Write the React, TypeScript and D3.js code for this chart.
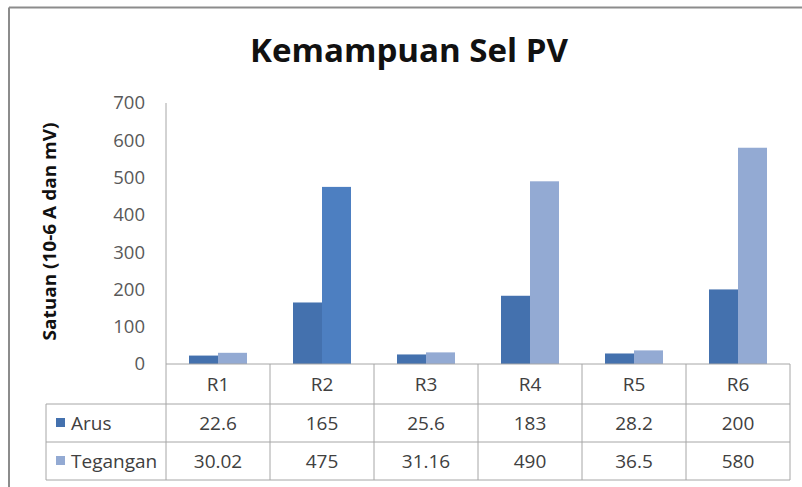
import React from "react";
import * as d3 from "d3";

const categories = ["R1", "R2", "R3", "R4", "R5", "R6"];
const seriesNames = ["Arus", "Tegangan"];
const arus = [22.6, 165, 25.6, 183, 28.2, 200];
const tegangan = [30.02, 475, 31.16, 490, 36.5, 580];
const arusLabels = ["22.6", "165", "25.6", "183", "28.2", "200"];
const teganganLabels = ["30.02", "475", "31.16", "490", "36.5", "580"];
const yTicks = [0, 100, 200, 300, 400, 500, 600, 700];
const title = "Kemampuan Sel PV";
const yLabel = "Satuan (10-6 A dan mV)";

const W = 802;
const H = 487;
const plotL = 166;
const plotR = 790;
const plotT = 103;
const plotB = 364;
const tableL = 46;
const rowLines = [364, 404, 442, 480];

const colors: Record<string, string> = { Arus: "#4471AE", Tegangan: "#93AAD3" };
const highlight = "#4D7FC1"; // R2 Tegangan appears darker in reference

const FONT = "'Open Sans', 'Noto Sans', sans-serif";

export default function App() {
  const x = d3.scaleBand<string>().domain(categories).range([plotL, plotR]).paddingInner(0).paddingOuter(0);
  const xs = d3.scaleBand<string>().domain(seriesNames).range([0, x.bandwidth()]).paddingInner(0).paddingOuter(0.793);
  const y = d3.scaleLinear().domain([0, 700]).range([plotB, plotT]);
  const values: Record<string, number[]> = { Arus: arus, Tegangan: tegangan };
  const labels: Record<string, string[]> = { Arus: arusLabels, Tegangan: teganganLabels };
  const lineColor = "#A6A6A6";

  return (
    <svg width={W} height={H} style={{ position: "absolute", left: 0, top: 0, background: "#fff" }}>
      <rect x={0} y={0} width={W} height={H} fill="#fff" />
      {/* outer chart border */}
      <line x1={9} x2={W} y1={7.5} y2={7.5} stroke="#8c8c8c" strokeWidth={2} />
      <line x1={9} x2={9} y1={7.5} y2={H} stroke="#8c8c8c" strokeWidth={2} />

      <text x={409} y={62} textAnchor="middle" fontFamily={FONT} fontWeight="bold" fontSize={33} fill="#111"
        textLength={318} lengthAdjust="spacingAndGlyphs">
        {title}
      </text>

      <text
        transform={`translate(56,${(plotT + plotB) / 2 - 2}) rotate(-90)`}
        textAnchor="middle"
        fontFamily={FONT}
        fontWeight="bold"
        fontSize={17}
        fill="#111"
        textLength={218}
        lengthAdjust="spacingAndGlyphs"
      >
        {yLabel}
      </text>

      {yTicks.map((t) => (
        <text key={t} x={145} y={y(t)} dy="0.35em" textAnchor="end" fontFamily={FONT} fontSize={18.5} fill="#595959">
          {t}
        </text>
      ))}

      {/* bars */}
      {seriesNames.map((s) =>
        categories.map((c, i) => {
          const v = values[s][i];
          const fill = s === "Tegangan" && c === "R2" ? highlight : colors[s];
          return (
            <rect
              key={s + c}
              x={(x(c) as number) + (xs(s) as number)}
              y={y(v)}
              width={xs.bandwidth()}
              height={y(0) - y(v)}
              fill={fill}
            />
          );
        })
      )}

      {/* y axis */}
      <line x1={plotL} x2={plotL} y1={plotT} y2={plotB} stroke={lineColor} />

      {/* data table */}
      <line x1={plotL} x2={plotR} y1={rowLines[0]} y2={rowLines[0]} stroke={lineColor} />
      {rowLines.slice(1).map((ry) => (
        <line key={ry} x1={tableL} x2={plotR} y1={ry} y2={ry} stroke={lineColor} />
      ))}
      <line x1={tableL} x2={tableL} y1={rowLines[1]} y2={rowLines[3]} stroke={lineColor} />
      {[...categories.map((c) => x(c) as number), plotR].map((cx, i) => (
        <line key={i} x1={cx} x2={cx} y1={rowLines[0]} y2={rowLines[3]} stroke={lineColor} />
      ))}
      {categories.map((c) => (
        <text
          key={c}
          x={(x(c) as number) + x.bandwidth() / 2}
          y={(rowLines[0] + rowLines[1]) / 2}
          dy="0.35em"
          textAnchor="middle"
          fontFamily={FONT}
          fontSize={19}
          fill="#404040"
        >
          {c}
        </text>
      ))}
      {seriesNames.map((s, r) => {
        const cy = (rowLines[r + 1] + rowLines[r + 2]) / 2;
        return (
          <g key={s}>
            <rect x={56} y={cy - 5} width={9} height={9} fill={colors[s]} />
            <text x={71} y={cy} dy="0.35em" fontFamily={FONT} fontSize={19} fill="#404040">
              {s}
            </text>
            {categories.map((c, i) => (
              <text
                key={c}
                x={(x(c) as number) + x.bandwidth() / 2}
                y={cy}
                dy="0.35em"
                textAnchor="middle"
                fontFamily={FONT}
                fontSize={19}
                fill="#404040"
              >
                {labels[s][i]}
              </text>
            ))}
          </g>
        );
      })}
    </svg>
  );
}
